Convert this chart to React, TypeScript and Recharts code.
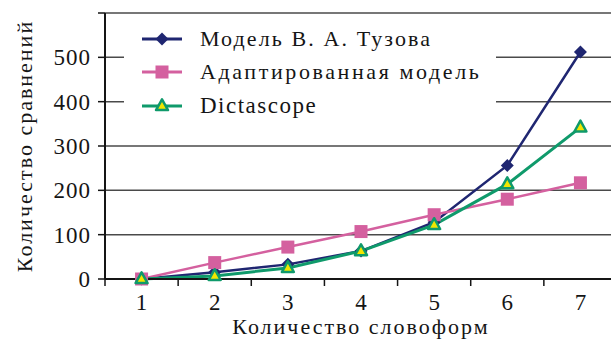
import { CartesianGrid, Legend, Line, LineChart, XAxis, YAxis } from "recharts";

// Количество словоформ
const forms = [1, 2, 3, 4, 5, 6, 7];
// Количество сравнений по каждой модели
const tuzov = [0, 15, 33, 63, 128, 256, 512];
const adapted = [0, 37, 72, 107, 145, 180, 217];
const dictascope = [0, 7, 25, 63, 122, 214, 342];
const yTicks = [0, 100, 200, 300, 400, 500, 600];

const seriesNames = ["Модель В. А. Тузова", "Адаптированная модель", "Dictascope"];

const data = forms.map((n, i) => ({
  n,
  tuzov: tuzov[i],
  adapted: adapted[i],
  dictascope: dictascope[i],
}));

const FONT = "'Liberation Serif', serif";
const TEXT = "#151515";
const NAVY = "#1f2671";
const PINK = "#d4609f";
const GREEN = "#0f9a6b";
const YELLOW = "#f2e600";

const W = 625;
const H = 340;
const Y_W = 105;
const M_RIGHT = 8;
const HALF = (W - M_RIGHT - Y_W) / forms.length / 2;

function Diamond({ cx, cy, r = 6.5 }: { cx: number; cy: number; r?: number }) {
  return (
    <path
      d={`M${cx},${cy - r}L${cx + r},${cy}L${cx},${cy + r}L${cx - r},${cy}Z`}
      fill={NAVY}
    />
  );
}

function Square({ cx, cy, s = 13 }: { cx: number; cy: number; s?: number }) {
  return <rect x={cx - s / 2} y={cy - s / 2} width={s} height={s} fill={PINK} />;
}

function Triangle({ cx, cy, s = 12 }: { cx: number; cy: number; s?: number }) {
  const h = s * 0.9;
  return (
    <path
      d={`M${cx},${cy - h * 0.62}L${cx + s / 2},${cy + h * 0.38}L${cx - s / 2},${cy + h * 0.38}Z`}
      fill={YELLOW}
      stroke={GREEN}
      strokeWidth={2.5}
      strokeLinejoin="round"
    />
  );
}

const markers = [
  (cx: number, cy: number) => <Diamond cx={cx} cy={cy} />,
  (cx: number, cy: number) => <Square cx={cx} cy={cy} />,
  (cx: number, cy: number) => <Triangle cx={cx} cy={cy} />,
];
const colors = [NAVY, PINK, GREEN];
// латиница шире в оригинале, кириллица — через запасной шрифт
const legendSpacing = [2.1, 2.6, 1.5];
const legendSize = [22, 22, 23];

function XTick(props: any) {
  const { x, y, payload } = props;
  const axisY = y - 15;
  return (
    <g>
      <line x1={x - HALF} x2={x - HALF} y1={axisY} y2={axisY + 7} stroke={TEXT} strokeWidth={1.5} />
      {payload.value === forms[forms.length - 1] && (
        <line x1={x + HALF} x2={x + HALF} y1={axisY} y2={axisY + 7} stroke={TEXT} strokeWidth={1.5} />
      )}
      <text x={x} y={y} dy="0.71em" textAnchor="middle" fill={TEXT} fontSize={23} fontFamily={FONT}>
        {payload.value}
      </text>
    </g>
  );
}

function LegendBox() {
  return (
    <div style={{ background: "#fff", width: 372, height: 100, paddingTop: 0, boxSizing: "border-box" }}>
      {seriesNames.map((name, i) => (
        <div key={name} style={{ display: "flex", alignItems: "center", height: 33.5 }}>
          <svg width={76} height={24} style={{ flex: "none" }}>
            <line x1={18} x2={58} y1={12} y2={12} stroke={colors[i]} strokeWidth={3} />
            {markers[i](38, 12)}
          </svg>
          <span
            style={{
              fontFamily: FONT,
              fontSize: legendSize[i],
              letterSpacing: legendSpacing[i],
              color: TEXT,
              whiteSpace: "nowrap",
            }}
          >
            {name}
          </span>
        </div>
      ))}
    </div>
  );
}

export default function App() {
  return (
    <div
      style={{
        position: "absolute",
        left: 0,
        top: 0,
        width: 611,
        height: H,
        overflow: "hidden",
        background: "#fff",
      }}
    >
      <LineChart width={W} height={H} data={data} margin={{ top: 13, right: M_RIGHT, left: 0, bottom: 0 }}>
        <CartesianGrid vertical={false} stroke="#4a4a4a" strokeWidth={1.5} />
        <XAxis
          dataKey="n"
          type="number"
          domain={[0.5, 7.5]}
          ticks={forms}
          height={61}
          tickLine={false}
          tickSize={7}
          tickMargin={8}
          axisLine={{ stroke: TEXT, strokeWidth: 2 }}
          tick={<XTick />}
          label={{
            value: "Количество словоформ",
            position: "insideBottom",
            offset: 6,
            fill: TEXT,
            fontSize: 22,
            fontFamily: FONT,
            letterSpacing: 2,
          }}
        />
        <YAxis
          type="number"
          domain={[0, 600]}
          ticks={yTicks}
          width={Y_W}
          tickSize={7}
          tickMargin={7}
          interval={0}
          tickFormatter={(v: number) => (v === 600 ? "" : String(v))}
          axisLine={{ stroke: TEXT, strokeWidth: 2 }}
          tickLine={{ stroke: TEXT, strokeWidth: 1.5 }}
          tick={{ fill: TEXT, fontSize: 23, fontFamily: FONT, letterSpacing: 1 }}
          label={{
            value: "Количество сравнений",
            angle: -90,
            position: "center",
            dx: -28,
            fill: TEXT,
            fontSize: 22,
            fontFamily: FONT,
            letterSpacing: 2,
          }}
        />
        <Legend
          layout="horizontal"
          verticalAlign="middle"
          align="center"
          wrapperStyle={{ left: 124, top: 22, width: 372, height: 100 }}
          content={<LegendBox />}
        />
        <Line
          dataKey="tuzov"
          name={seriesNames[0]}
          stroke={NAVY}
          strokeWidth={2.5}
          isAnimationActive={false}
          dot={(p: any) => <Diamond key={`d${p.index}`} cx={p.cx} cy={p.cy} />}
        />
        <Line
          dataKey="adapted"
          name={seriesNames[1]}
          stroke={PINK}
          strokeWidth={2.5}
          isAnimationActive={false}
          dot={(p: any) => <Square key={`s${p.index}`} cx={p.cx} cy={p.cy} />}
        />
        <Line
          dataKey="dictascope"
          name={seriesNames[2]}
          stroke={GREEN}
          strokeWidth={3}
          isAnimationActive={false}
          dot={(p: any) => <Triangle key={`t${p.index}`} cx={p.cx} cy={p.cy} />}
        />
      </LineChart>
    </div>
  );
}
